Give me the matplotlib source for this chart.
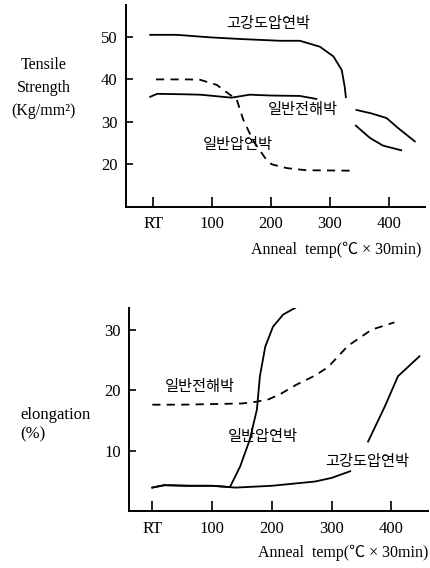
import matplotlib
matplotlib.use("Agg")
import matplotlib.pyplot as plt

plt.rcParams['font.family'] = ['Liberation Serif', 'Noto Sans CJK KR']

# tick labels
x_ticks = [0, 100, 200, 300, 400]
x_labels = ['RT', '100', '200', '300', '400']

# --- tensile strength (Kg/mm2) ---
ts_hs_t = [-5, 40, 97, 150, 215, 249, 283, 306, 320, 325, 327]
ts_hs_v = [50.5, 50.5, 49.9, 49.5, 49.1, 49.1, 47.7, 45.4, 42.2, 38.3, 35.8]
ts_el_t = [-5, 7, 50, 80, 133, 164, 200, 249, 277]
ts_el_v = [35.9, 36.6, 36.5, 36.4, 35.7, 36.4, 36.2, 36.1, 35.4]
ts_ra_t = [5, 60, 80, 108, 142, 153, 170, 190, 201, 227, 260, 334]
ts_ra_v = [40.0, 40.0, 39.9, 38.7, 35.2, 30.5, 25.5, 21.5, 20.0, 19.1, 18.6, 18.5]
ts_tail1_t = [345, 370, 396, 416, 444]
ts_tail1_v = [32.8, 32.0, 30.9, 28.5, 25.4]
ts_tail2_t = [344, 368, 390, 421]
ts_tail2_v = [29.1, 26.2, 24.4, 23.3]

# --- elongation (%) ---
el_hs_t = [0, 20, 60, 100, 139, 200, 272, 300, 331]
el_hs_v = [3.9, 4.3, 4.2, 4.2, 3.9, 4.2, 4.9, 5.5, 6.6]
el_hs2_t = [361, 389, 411, 447]
el_hs2_v = [11.5, 17.3, 22.3, 25.6]
el_ra_t = [0, 20, 60, 100, 130, 147, 163, 175, 180, 189, 202, 219, 239]
el_ra_v = [3.9, 4.3, 4.2, 4.2, 4.0, 7.4, 11.8, 16.8, 22.3, 27.2, 30.5, 32.5, 33.6]
el_el_t = [0, 50, 100, 150, 175, 195, 215, 241, 272, 294, 327, 367, 405]
el_el_v = [17.6, 17.6, 17.7, 17.8, 18.1, 18.5, 19.4, 20.9, 22.4, 23.8, 27.3, 30.0, 31.2]

lab_hs = '고강도압연박'
lab_el = '일반전해박'
lab_ra = '일반압연박'
xlabel = 'Anneal  temp(℃ × 30min)'

fig = plt.figure(figsize=(4.3, 5.68), dpi=100)
ax1 = fig.add_axes([0.293, 0.636, 0.695, 0.355])
ax2 = fig.add_axes([0.300, 0.100, 0.695, 0.358])

lw = 1.3
dash = (4.5, 3.5)

ax1.plot(ts_hs_t, ts_hs_v, color='black', lw=lw)
ax1.plot(ts_el_t, ts_el_v, color='black', lw=lw)
ax1.plot(ts_ra_t, ts_ra_v, color='black', lw=lw, dashes=dash)
ax1.plot(ts_tail1_t, ts_tail1_v, color='black', lw=lw)
ax1.plot(ts_tail2_t, ts_tail2_v, color='black', lw=lw)

ax2.plot(el_hs_t, el_hs_v, color='black', lw=lw)
ax2.plot(el_hs2_t, el_hs2_v, color='black', lw=lw)
ax2.plot(el_ra_t, el_ra_v, color='black', lw=lw)
ax2.plot(el_el_t, el_el_v, color='black', lw=lw, dashes=dash)

kfont = dict(fontsize=11, ha='center', va='center')
ax1.text(195, 53.1, lab_hs, **kfont)
ax1.text(254, 32.8, lab_el, **kfont)
ax1.text(144, 24.6, lab_ra, **kfont)
ax2.text(80, 20.6, lab_el, **kfont)
ax2.text(185, 12.3, lab_ra, **kfont)
ax2.text(360, 8.2, lab_hs, **kfont)

ax1.set_xlim(-46, 461)
ax1.set_ylim(10, 57.5)
ax1.set_yticks([20, 30, 40, 50])
ax2.set_xlim(-39, 461)
ax2.set_ylim(0, 33.6)
ax2.set_yticks([10, 20, 30])

for ax in (ax1, ax2):
    ax.set_xticks(x_ticks)
    ax.set_xticklabels(x_labels)
    for s in ('top', 'right'):
        ax.spines[s].set_visible(False)
    for s in ('left', 'bottom'):
        ax.spines[s].set_linewidth(1.4)
    ax.tick_params(axis='x', direction='in', length=7, width=1.2, pad=7, labelsize=12)
    ax.tick_params(axis='y', direction='in', length=5, width=1.2, pad=6, labelsize=12)

fig.text(0.102, 0.845, 'Tensile\nStrength\n(Kg/mm²)', ha='center', va='center',
         fontsize=11.5, linespacing=1.55)
fig.text(0.047, 0.252, 'elongation\n(%)', ha='left', va='center',
         fontsize=12, linespacing=1.3)
fig.text(0.981, 0.560, xlabel, ha='right', va='center', fontsize=11.5)
fig.text(0.997, 0.026, xlabel, ha='right', va='center', fontsize=11.5)

fig.savefig('out.png', dpi=100)
